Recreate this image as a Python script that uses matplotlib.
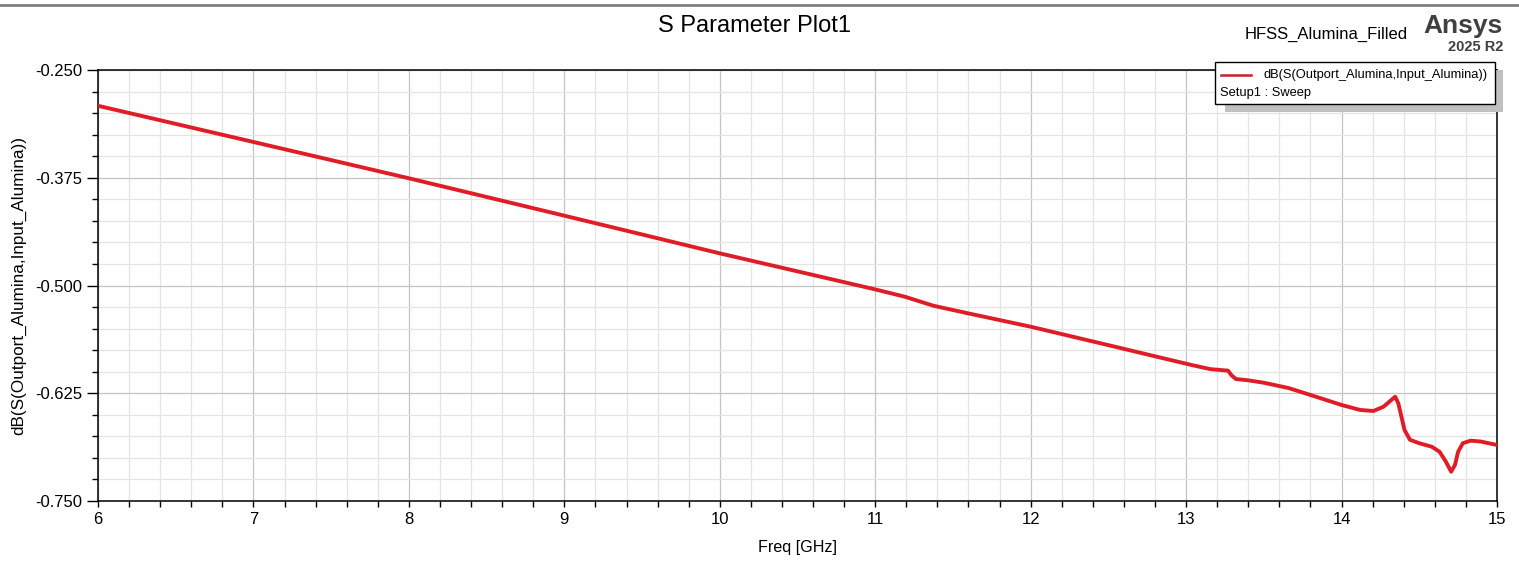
import matplotlib
matplotlib.use("Agg")
from matplotlib import pyplot as plt
from matplotlib.ticker import MultipleLocator, FormatStrFormatter
from matplotlib.patches import Rectangle
from matplotlib.lines import Line2D

plt.rcParams['font.family'] = ['Liberation Sans', 'DejaVu Sans']

# curve
freq_ghz = [6.0, 6.5, 7.0, 7.5, 8.0, 8.5, 9.0, 9.5, 10.0, 10.5, 11.0, 11.19,
            11.375, 11.59, 12.0, 12.5, 12.855, 13.03, 13.155, 13.27, 13.29,
            13.32, 13.40, 13.5, 13.66, 13.8, 14.0, 14.12, 14.205, 14.27,
            14.345, 14.365, 14.385, 14.405, 14.44, 14.50, 14.58, 14.63,
            14.67, 14.705, 14.73, 14.75, 14.78, 14.83, 14.895, 15.0]
s21_db = [-0.2915, -0.3125, -0.3335, -0.3545, -0.3756, -0.3973, -0.419,
          -0.4408, -0.4627, -0.4836, -0.5045, -0.513, -0.5235, -0.532,
          -0.5478, -0.5692, -0.5845, -0.592, -0.597, -0.5988, -0.6038,
          -0.6085, -0.610, -0.6128, -0.619, -0.627, -0.6386, -0.6444,
          -0.6456, -0.6406, -0.629, -0.6367, -0.652, -0.6676, -0.679,
          -0.683, -0.687, -0.6928, -0.704, -0.716, -0.708, -0.6928,
          -0.683, -0.680, -0.681, -0.685]

y_ticks = [-0.750, -0.625, -0.500, -0.375, -0.250]
x_ticks = [6, 7, 8, 9, 10, 11, 12, 13, 14, 15]

W, H = 1519, 561
fig = plt.figure(figsize=(W / 100, H / 100), dpi=100)
ax = fig.add_axes([98 / W, 1 - 501 / H, (1497 - 98) / W, (501 - 70) / H])

ax.plot(freq_ghz, s21_db, color='#e01d27', linewidth=2.8, solid_joinstyle='round',
        solid_capstyle='round', zorder=3)

ax.set_xlim(6, 15)
ax.set_ylim(-0.75, -0.25)
ax.set_xticks(x_ticks)
ax.set_yticks(y_ticks)
ax.xaxis.set_minor_locator(MultipleLocator(0.2))
ax.yaxis.set_minor_locator(MultipleLocator(0.025))
ax.yaxis.set_major_formatter(FormatStrFormatter('%.3f'))

ax.grid(which='major', color='#c4c4c4', linewidth=0.9)
ax.grid(which='minor', color='#e4e4e4', linewidth=0.9)
ax.set_axisbelow(True)

ax.tick_params(axis='both', which='major', labelsize=12, direction='out', color='black', width=1)
ax.tick_params(axis='y', which='major', length=8, pad=3)
ax.tick_params(axis='y', which='minor', length=4.5, width=1)
ax.tick_params(axis='x', which='major', length=4, pad=4)
ax.tick_params(axis='x', which='minor', length=4, width=1)
for sp in ax.spines.values():
    sp.set_linewidth(1.1)
    sp.set_color('black')

ax.set_xlabel('Freq [GHz]', fontsize=11.6, labelpad=9)
ax.set_ylabel('dB(S(Outport_Alumina,Input_Alumina))', fontsize=12.3, labelpad=7)

# header texts
fig.text(755 / W, 1 - 26 / H, 'S Parameter Plot1', fontsize=17, ha='center', va='center')
fig.text(1408 / W, 1 - 34 / H, 'HFSS_Alumina_Filled', fontsize=12, ha='right', va='center')
fig.text(1503 / W, 1 - 26 / H, 'Ansys', fontsize=19, fontweight='bold', color='#404040',
         ha='right', va='center')
fig.text(1503 / W, 1 - 47 / H, '2025 R2', fontsize=10.5, fontweight='bold', color='#404040',
         ha='right', va='center')

# window border at the top
fig.add_artist(Line2D([0, 1], [1 - 5 / H, 1 - 5 / H], transform=fig.transFigure,
                      color='#808080', linewidth=2))

# legend box with shadow
fig.add_artist(Rectangle((1225 / W, 1 - 112 / H), 278 / W, 42 / H, transform=fig.transFigure,
                         facecolor='#c0c0c0', edgecolor='none', zorder=5))
fig.add_artist(Rectangle((1215 / W, 1 - 104 / H), 280 / W, 42 / H, transform=fig.transFigure,
                         facecolor='white', edgecolor='black', linewidth=1, zorder=6))
fig.add_artist(Line2D([1221 / W, 1251 / W], [1 - 75 / H, 1 - 75 / H], transform=fig.transFigure,
                      color='#c8202a', linewidth=1.8, zorder=7))
fig.text(1264 / W, 1 - 75 / H, 'dB(S(Outport_Alumina,Input_Alumina))', fontsize=9.3,
         ha='left', va='center', zorder=7)
fig.text(1220 / W, 1 - 93 / H, 'Setup1 : Sweep', fontsize=9.3, ha='left', va='center', zorder=7)

fig.savefig('out.png', dpi=100)
